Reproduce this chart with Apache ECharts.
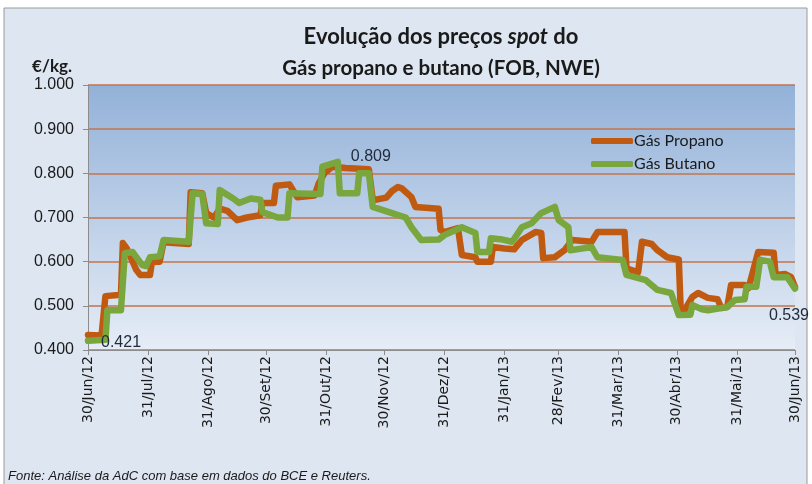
<!DOCTYPE html>
<html><head><meta charset="utf-8">
<script src="https://cdn.jsdelivr.net/npm/echarts@6/dist/echarts.min.js"></script>
<style>html,body{margin:0;padding:0;background:#fff}#c{width:812px;height:484px}</style>
</head><body><div id="c"></div><script>
const propanoDates = ['2012-06-30','2012-07-07','2012-07-09','2012-07-17','2012-07-18','2012-07-20','2012-07-25','2012-07-27','2012-08-01','2012-08-02','2012-08-06','2012-08-08','2012-08-21','2012-08-22','2012-08-28','2012-08-30','2012-09-03','2012-09-06','2012-09-10','2012-09-15','2012-09-20','2012-09-27','2012-09-28','2012-10-04','2012-10-05','2012-10-12','2012-10-16','2012-10-25','2012-10-27','2012-10-30','2012-11-03','2012-11-10','2012-11-22','2012-11-24','2012-12-01','2012-12-04','2012-12-07','2012-12-09','2012-12-14','2012-12-16','2012-12-28','2012-12-29','2012-12-31','2013-01-07','2013-01-09','2013-01-16','2013-01-17','2013-01-24','2013-01-25','2013-01-31','2013-02-05','2013-02-09','2013-02-16','2013-02-19','2013-02-20','2013-02-26','2013-03-03','2013-03-07','2013-03-17','2013-03-20','2013-04-03','2013-04-04','2013-04-10','2013-04-12','2013-04-17','2013-04-20','2013-04-25','2013-05-01','2013-05-02','2013-05-04','2013-05-08','2013-05-11','2013-05-16','2013-05-21','2013-05-23','2013-05-26','2013-05-28','2013-06-04','2013-06-06','2013-06-11','2013-06-19','2013-06-20','2013-06-25','2013-06-28','2013-06-30'];
const propanoValues = [0.434,0.433,0.522,0.525,0.642,0.630,0.581,0.570,0.570,0.599,0.600,0.644,0.640,0.757,0.755,0.710,0.700,0.720,0.715,0.694,0.700,0.705,0.733,0.733,0.772,0.775,0.746,0.750,0.776,0.800,0.815,0.812,0.809,0.739,0.745,0.760,0.769,0.766,0.746,0.724,0.720,0.672,0.667,0.676,0.615,0.610,0.600,0.600,0.633,0.630,0.628,0.649,0.667,0.665,0.608,0.610,0.626,0.649,0.645,0.667,0.667,0.585,0.576,0.645,0.640,0.626,0.610,0.605,0.490,0.490,0.520,0.529,0.518,0.515,0.495,0.497,0.547,0.547,0.540,0.622,0.620,0.570,0.572,0.565,0.543];
const butanoDates = ['2012-06-30','2012-07-09','2012-07-10','2012-07-17','2012-07-19','2012-07-23','2012-07-28','2012-07-30','2012-08-01','2012-08-06','2012-08-08','2012-08-21','2012-08-23','2012-08-28','2012-08-30','2012-09-05','2012-09-06','2012-09-13','2012-09-16','2012-09-22','2012-09-27','2012-09-28','2012-10-06','2012-10-11','2012-10-12','2012-10-28','2012-10-29','2012-11-06','2012-11-07','2012-11-16','2012-11-17','2012-11-22','2012-11-24','2012-12-04','2012-12-11','2012-12-14','2012-12-19','2012-12-28','2012-12-31','2013-01-09','2013-01-16','2013-01-17','2013-01-23','2013-01-24','2013-01-30','2013-02-04','2013-02-09','2013-02-14','2013-02-19','2013-02-26','2013-02-28','2013-03-05','2013-03-06','2013-03-17','2013-03-20','2013-04-02','2013-04-04','2013-04-14','2013-04-20','2013-04-27','2013-05-01','2013-05-07','2013-05-08','2013-05-13','2013-05-16','2013-05-26','2013-05-30','2013-06-04','2013-06-05','2013-06-10','2013-06-12','2013-06-17','2013-06-19','2013-06-26','2013-06-30'];
const butanoValues = [0.421,0.423,0.490,0.490,0.619,0.622,0.592,0.590,0.610,0.612,0.649,0.645,0.755,0.753,0.687,0.685,0.762,0.743,0.733,0.743,0.740,0.712,0.700,0.700,0.755,0.753,0.815,0.826,0.755,0.755,0.800,0.800,0.724,0.710,0.700,0.678,0.649,0.650,0.660,0.678,0.665,0.622,0.622,0.653,0.650,0.645,0.678,0.687,0.710,0.724,0.694,0.678,0.626,0.633,0.610,0.604,0.570,0.558,0.536,0.529,0.479,0.480,0.502,0.492,0.490,0.497,0.513,0.515,0.543,0.543,0.604,0.600,0.565,0.565,0.539];
const tickDates = ['2012-06-30','2012-07-31','2012-08-31','2012-09-30','2012-10-31','2012-11-30','2012-12-31','2013-01-31','2013-02-28','2013-03-31','2013-04-30','2013-05-31','2013-06-30'];
const monthNames = ['Jan','Fev','Mar','Abr','Mai','Jun','Jul','Ago','Set','Out','Nov','Dez'];
const yTicks = [0.4,0.5,0.6,0.7,0.8,0.9,1.0];
const seriesNames = ['Gás Propano','Gás Butano'];
const labelled = {propano: {'2012-11-22': 'top'}, butano: {'2012-06-30': 'right', '2013-06-30': 'bottom'}};

function ts(s){const p=s.split('-').map(Number);return Date.UTC(p[0],p[1]-1,p[2]);}
function fmt(v){const d=new Date(v);return d.getUTCDate()+'/'+monthNames[d.getUTCMonth()]+'/'+String(d.getUTCFullYear()).slice(2);}
const labelOffsets = {top:[2,0], right:[8,2], bottom:[-6,14]};
function build(dates, values, lab){
  return dates.map((d,i)=>{
    const item = {value:[ts(d), values[i]]};
    if (lab[d]) item.label = {show:true, position:lab[d], offset:labelOffsets[lab[d]], formatter: values[i].toFixed(3), fontFamily:'Liberation Sans', fontSize:16, color:'#1f2a3a'};
    return item;
  });
}
const tickValues = tickDates.map(ts);

const chart = echarts.init(document.getElementById('c'), null, {renderer:'canvas'});
chart.setOption({
  animation:false,
  backgroundColor:'#ffffff',
  graphic:[
    {type:'rect', z:-10, shape:{x:4,y:8,width:803,height:500}, style:{fill:'#dde6f1', stroke:'#9a9a9a', lineWidth:1}},
    {type:'text', x:441, y:37, style:{text:'{a|Evolução dos preços }{i|spot}{a| do}', align:'center', verticalAlign:'middle',
      rich:{a:{fontFamily:'Lato', fontWeight:'bold', fontSize:22, fill:'#1a1a1a'}, i:{fontFamily:'Lato', fontWeight:'bold', fontStyle:'italic', fontSize:22, fill:'#1a1a1a'}}}},
    {type:'text', x:441, y:68, style:{text:'Gás propano e butano (FOB, NWE)', align:'center', verticalAlign:'middle', fontFamily:'Lato', fontWeight:'bold', fontSize:20.5, fill:'#1a1a1a'}},
    {type:'text', x:72, y:67, style:{text:'€/kg.', align:'right', verticalAlign:'middle', fontFamily:'Lato', fontWeight:'bold', fontSize:17, fill:'#1a1a1a'}},
    {type:'text', x:8, y:476, style:{text:'Fonte: Análise da AdC com base em dados do BCE e Reuters.', align:'left', verticalAlign:'middle', fontFamily:'Liberation Sans', fontStyle:'italic', fontSize:13, fill:'#1a1a1a'}}
  ],
  grid:{left:88, right:17, top:85, bottom:134, show:true, borderWidth:0,
    backgroundColor:{type:'linear', x:0, y:0, x2:0, y2:1, colorStops:[{offset:0,color:'#93b1d8'},{offset:0.5,color:'#bccfe8'},{offset:1,color:'#e6edf6'}]}},
  legend:{orient:'vertical', left:586, top:128, itemWidth:42, itemHeight:6, itemGap:7, icon:'roundRect',
    textStyle:{fontFamily:'Lato', fontSize:16, color:'#1a1a1a', padding:[0,0,0,-4]}, data:seriesNames},
  xAxis:{type:'value', min:tickValues[0], max:tickValues[tickValues.length-1],
    axisLine:{show:true, lineStyle:{color:'#8c8c8c', width:1}},
    axisTick:{show:true, length:5, lineStyle:{color:'#8c8c8c'}, customValues:tickValues},
    axisLabel:{rotate:90, margin:6, fontFamily:'DejaVu Sans', fontSize:14, color:'#1a1a1a', customValues:tickValues, formatter:fmt, hideOverlap:false, showMinLabel:true, showMaxLabel:true},
    splitLine:{show:false}},
  yAxis:{type:'value', min:yTicks[0], max:yTicks[yTicks.length-1], interval:0.1,
    axisLine:{show:true, lineStyle:{color:'#8c8c8c'}},
    axisTick:{show:true, length:5, lineStyle:{color:'#8c8c8c'}},
    axisLabel:{fontFamily:'Liberation Sans', fontSize:16, color:'#1a1a1a', margin:14, formatter:v=>v.toFixed(3)},
    splitLine:{show:true, lineStyle:{color:'#c0744c', width:1.5}}},
  series:[
    {name:seriesNames[0], type:'line', data:build(propanoDates, propanoValues, labelled.propano), symbol:'circle', symbolSize:0, showSymbol:true,
      itemStyle:{color:'#c05a10'}, lineStyle:{width:6.5, color:'#c05a10', cap:'round', join:'round'}, z:2},
    {name:seriesNames[1], type:'line', data:build(butanoDates, butanoValues, labelled.butano), symbol:'circle', symbolSize:0, showSymbol:true,
      itemStyle:{color:'#7aa63e'}, lineStyle:{width:6.5, color:'#7aa63e', cap:'round', join:'round'}, z:3}
  ]
});
</script></body></html>
